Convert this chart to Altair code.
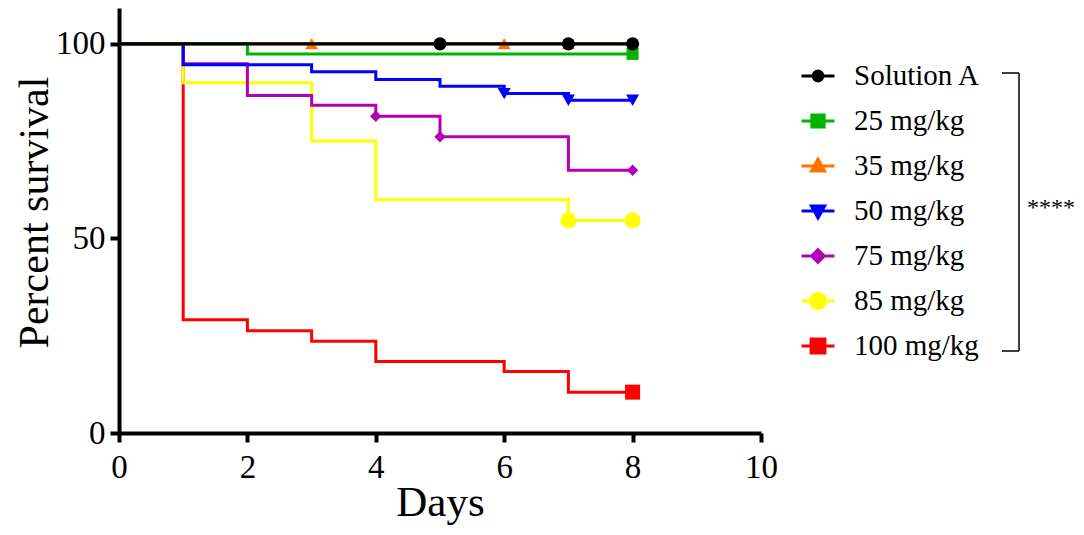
import altair as alt
import pandas as pd

# ---------------- data ----------------
series_names = ["Solution A", "25 mg/kg", "35 mg/kg", "50 mg/kg", "75 mg/kg", "85 mg/kg", "100 mg/kg"]
series_colors = ["#000000", "#00B400", "#FF7500", "#0000FF", "#B400B4", "#FFFF00", "#FF0000"]

# Kaplan-Meier step points (day, percent survival)
solA_days = [0, 8]
solA_surv = [100, 100]
g25_days = [0, 2, 8]
g25_surv = [100, 97.4, 97.4]
g35_days = [0, 8]
g35_surv = [100, 100]
g50_days = [0, 1, 3, 4, 5, 6, 7, 8]
g50_surv = [100, 94.6, 92.8, 90.8, 89.1, 87.2, 85.5, 85.5]
g75_days = [0, 1, 2, 3, 4, 5, 7, 8]
g75_surv = [100, 94.9, 86.7, 84.2, 81.4, 76.1, 67.5, 67.5]
g85_days = [0, 1, 3, 4, 7, 8]
g85_surv = [100, 90.0, 75.0, 60.0, 54.6, 54.6]
g100_days = [0, 1, 2, 3, 4, 6, 7, 8]
g100_surv = [100, 29.1, 26.3, 23.6, 18.4, 15.8, 10.5, 10.5]

# censored-subject marker days
solA_marks = [5, 7, 8]
g25_marks = [8]
g35_marks = [3, 6, 7, 8]
g50_marks = [6, 7, 8]
g75_marks = [4, 5, 8]
g85_marks = [7, 8]
g100_marks = [8]

x_ticks = [0, 2, 4, 6, 8, 10]
y_ticks = [0, 50, 100]

steps = [
    (solA_days, solA_surv, solA_marks),
    (g25_days, g25_surv, g25_marks),
    (g35_days, g35_surv, g35_marks),
    (g50_days, g50_surv, g50_marks),
    (g75_days, g75_surv, g75_marks),
    (g85_days, g85_surv, g85_marks),
    (g100_days, g100_surv, g100_marks),
]
marker_shapes = ["circle", "square", "triangle-up", "triangle-down", "diamond", "circle", "square"]
marker_sizes = [175, 144, 165, 170, 130, 256, 225]
line_widths = [3.2, 3, 3, 3, 3, 3, 3]

FONT = "Liberation Serif"

x_scale = alt.Scale(domain=[0, 10], nice=False, zero=False)
y_scale = alt.Scale(domain=[0, 109.2], nice=False)

x_axis = alt.Axis(
    values=x_ticks, title="Days", format="d", grid=False,
    labelFont=FONT, labelFontSize=33, labelColor="black", labelPadding=9,
    labelFlush=False, labelOverlap=False,
    titleFont=FONT, titleFontSize=43, titleFontWeight="normal", titleColor="black",
    titleY=82, titleBaseline="alphabetic",
    tickSize=9, tickWidth=4, tickColor="black", domainWidth=4, domainColor="black",
)
y_axis = alt.Axis(
    values=y_ticks, title="Percent survival", format="d", grid=False,
    labelFont=FONT, labelFontSize=33, labelColor="black", labelPadding=5,
    labelFlush=False, labelOverlap=False,
    titleFont=FONT, titleFontSize=42, titleFontWeight="normal", titleColor="black",
    titleAngle=270, titleX=-72, titleY=204, titleBaseline="alphabetic", titleAlign="center",
    tickSize=9, tickWidth=4, tickColor="black", domainWidth=4, domainColor="black",
)


def value_at(days, surv, d):
    v = surv[0]
    for dd, ss in zip(days, surv):
        if dd <= d:
            v = ss
    return v


layers = []
# draw from last series (bottom) to first (top)
for i in reversed(range(len(series_names))):
    days, surv, marks = steps[i]
    ldf = pd.DataFrame({"day": days, "surv": surv})
    layers.append(
        alt.Chart(ldf).mark_line(interpolate="step-after", color=series_colors[i],
                                 strokeWidth=line_widths[i]).encode(
            x=alt.X("day:Q", scale=x_scale, axis=x_axis),
            y=alt.Y("surv:Q", scale=y_scale, axis=y_axis),
        )
    )
    pdf = pd.DataFrame({"day": marks, "surv": [value_at(days, surv, m) for m in marks]})
    layers.append(
        alt.Chart(pdf).mark_point(filled=True, opacity=1, shape=marker_shapes[i],
                                  size=marker_sizes[i], color=series_colors[i]).encode(
            x=alt.X("day:Q", scale=x_scale, axis=x_axis),
            y=alt.Y("surv:Q", scale=y_scale, axis=y_axis),
        )
    )

# legend (line through marker symbols)
legend_paths = [
    "M-1,0H1M-0.3,0A0.3,0.3 0 1,0 0.3,0A0.3,0.3 0 1,0 -0.3,0Z",
    "M-1,0H1M-0.37,-0.37H0.37V0.37H-0.37Z",
    "M-1,0H1M0,-0.42L0.4,0.3L-0.4,0.3Z",
    "M-1,0H1M0,0.42L0.4,-0.3L-0.4,-0.3Z",
    "M-1,0H1M0,-0.38L0.38,0L0,0.38L-0.38,0Z",
    "M-1,0H1M-0.46,0A0.46,0.46 0 1,0 0.46,0A0.46,0.46 0 1,0 -0.46,0Z",
    "M-1,0H1M-0.42,-0.42H0.42V0.42H-0.42Z",
]
leg = alt.Legend(
    title=None, orient="none", legendX=681, legendY=50,
    labelFont=FONT, labelFontSize=29, labelColor="black", labelOffset=18,
    symbolSize=1089, symbolStrokeWidth=3, symbolOpacity=1, rowPadding=12,
    padding=0,
)
legend_df = pd.DataFrame({"series": series_names})
layers.append(
    alt.Chart(legend_df).mark_point(opacity=0).encode(
        x=alt.value(0), y=alt.value(0),
        fill=alt.Fill("series:N", scale=alt.Scale(domain=series_names, range=series_colors), legend=leg),
        stroke=alt.Stroke("series:N", scale=alt.Scale(domain=series_names, range=series_colors), legend=leg),
        shape=alt.Shape("series:N", scale=alt.Scale(domain=series_names, range=legend_paths), legend=leg),
    )
)

# significance bracket
one = pd.DataFrame({"t": ["****"]})
layers.append(alt.Chart(one).mark_rule(color="black", strokeWidth=1.5).encode(
    x=alt.value(900), y=alt.value(65), y2=alt.value(343)))
layers.append(alt.Chart(one).mark_rule(color="black", strokeWidth=1.5).encode(
    x=alt.value(883), x2=alt.value(900), y=alt.value(65)))
layers.append(alt.Chart(one).mark_rule(color="black", strokeWidth=1.5).encode(
    x=alt.value(883), x2=alt.value(900), y=alt.value(343)))
layers.append(alt.Chart(one).mark_text(font=FONT, fontSize=24, align="left",
                                       baseline="alphabetic", color="black").encode(
    x=alt.value(908), y=alt.value(207), text="t:N"))

chart = alt.layer(*layers).properties(
    width=642, height=425,
    padding={"left": 111, "top": 0, "right": 315, "bottom": 94},
    autosize=alt.AutoSizeParams(type="none"),
).configure_view(stroke=None)

chart.save("out.html", embed_options={"renderer": "svg", "actions": False})
